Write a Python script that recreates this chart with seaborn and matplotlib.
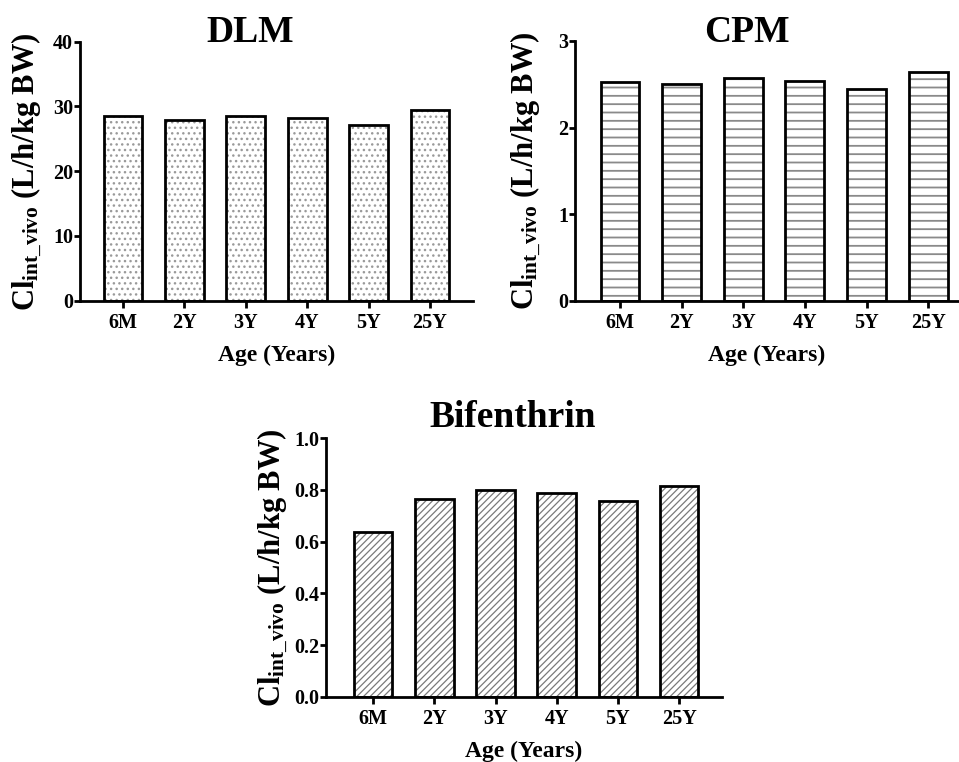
import numpy as np
import pandas as pd
import matplotlib
matplotlib.use("Agg")
import matplotlib.pyplot as plt
import matplotlib.patches as mpatches
from matplotlib.ticker import FormatStrFormatter
import seaborn as sns

# ---- data ----
ages = ["6M", "2Y", "3Y", "4Y", "5Y", "25Y"]
dlm_values = [28.5, 27.9, 28.6, 28.2, 27.1, 29.4]
cpm_values = [2.53, 2.50, 2.57, 2.54, 2.45, 2.64]
bif_values = [0.636, 0.765, 0.800, 0.787, 0.758, 0.816]
titles = ["DLM", "CPM", "Bifenthrin"]
dlm_yticks = [0, 10, 20, 30, 40]
cpm_yticks = [0, 1, 2, 3]
bif_yticks = [0.0, 0.2, 0.4, 0.6, 0.8, 1.0]
xlabel = "Age (Years)"
ylabel = r"Cl$_{\mathrm{int\_vivo}}$ (L/h/kg BW)"

sns.set_style("ticks")
plt.rcParams["font.family"] = ["Liberation Serif", "DejaVu Serif"]
plt.rcParams["font.weight"] = "bold"
plt.rcParams["mathtext.fontset"] = "custom"
plt.rcParams["mathtext.rm"] = "Liberation Serif:bold"
plt.rcParams["mathtext.it"] = "Liberation Serif:bold"
plt.rcParams["mathtext.bf"] = "Liberation Serif:bold"
for key in ["text.color", "axes.labelcolor", "xtick.color", "ytick.color",
            "axes.edgecolor"]:
    plt.rcParams[key] = "black"

W, H = 959, 762
fig = plt.figure(figsize=(W / 100, H / 100), dpi=100)


def px_axes(left, right, top, bottom):
    return fig.add_axes([left / W, 1 - bottom / H, (right - left) / W, (bottom - top) / H])


def panel(ax, values, yticks, hatch, hatch_color, hatch_lw, xlim, fmt, title, title_xy,
          ylab_px):
    df = pd.DataFrame({"age": ages, "value": values})
    plt.rcParams["hatch.linewidth"] = hatch_lw
    sns.barplot(data=df, x="age", y="value", order=ages, color="white",
                width=0.63, ax=ax, saturation=1)
    for p in list(ax.patches):
        p.set_facecolor("white")
        p.set_edgecolor(hatch_color)
        p.set_linewidth(0)
        p.set_hatch(hatch)
        if hasattr(p, "set_hatch_linewidth"):
            p.set_hatch_linewidth(hatch_lw)
        outline = mpatches.Rectangle(p.get_xy(), p.get_width(), p.get_height(),
                                     fill=False, edgecolor="black", linewidth=2.0,
                                     zorder=p.get_zorder() + 0.1)
        ax.add_patch(outline)
    ax.set_ylim(yticks[0], yticks[-1])
    ax.set_yticks(yticks)
    ax.yaxis.set_major_formatter(FormatStrFormatter(fmt))
    ax.set_xlim(*xlim)
    sns.despine(ax=ax)
    for s in ["left", "bottom"]:
        ax.spines[s].set_linewidth(2.0)
        ax.spines[s].set_color("black")
    ax.tick_params(axis="y", direction="out", length=4, width=2.0,
                   labelsize=14.5, pad=1, colors="black")
    ax.tick_params(axis="x", direction="out", length=5, width=2.0,
                   labelsize=14.5, pad=4, colors="black")
    for lab in ax.get_xticklabels() + ax.get_yticklabels():
        lab.set_fontweight("bold")
    ax.set_xlabel(xlabel, fontsize=17, fontweight="bold", color="black")
    ax.set_ylabel(ylabel, fontsize=22, fontweight="bold", color="black")
    axw = ax.get_position().width * W
    axh = ax.get_position().height * H
    ax.yaxis.set_label_coords(-ylab_px / axw, 0.5)
    ax.xaxis.set_label_coords(0.5, -44 / axh)
    fig.text(title_xy[0] / W, 1 - title_xy[1] / H, title, ha="center", va="baseline",
             fontsize=27, fontweight="bold", color="black")


ax1 = px_axes(80, 473, 41.7, 300.7)
panel(ax1, dlm_values, dlm_yticks, "...", "#9a9a9a", 1.0, (-0.70, 5.70), "%d",
      titles[0], (250, 42), 36)

ax2 = px_axes(575, 959, 41, 300.7)
panel(ax2, cpm_values, cpm_yticks, "--", "#8a8a8a", 1.3, (-0.73, 5.50), "%d",
      titles[1], (747, 42), 32)

ax3 = px_axes(326, 722, 438.3, 696.7)
panel(ax3, bif_values, bif_yticks, "/////", "#7a7a7a", 0.9, (-0.77, 5.70), "%.1f",
      titles[2], (513, 427), 36)

fig.savefig("out.png", dpi=100, facecolor="white")
